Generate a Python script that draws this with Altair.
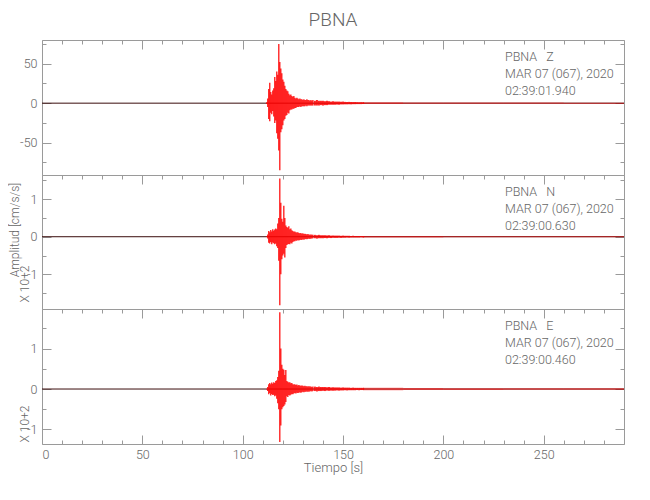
import altair as alt
import pandas as pd

# ---------------- data ----------------
T_MAX = 290
T_FINE = [112 + 0.5 * i for i in range(47)]      # 112.0 .. 135.0 s
T_COARSE = [136 + i for i in range(25)]          # 136 .. 160 s
TAIL_EDGES = [160, 180, 200, 230, 260, 290]

# Z component (cm/s/s) : upper / lower envelope
Z_HI_FINE = [1, 6, 18, 26, 14, 11, 16, 19, 33, 28,
             40, 36, 75, 52, 44, 38, 30, 27, 22, 18,
             16, 15, 12, 10, 11, 9, 8, 9, 7, 6,
             7, 6, 5, 6, 5, 5, 4, 5, 4, 4,
             5, 4, 4, 3, 4, 3, 4]
Z_LO_FINE = [-1, -5, -20, -23, -12, -14, -10, -17, -25, -22,
             -38, -45, -60, -85, -37, -33, -28, -22, -20, -16,
             -15, -12, -13, -9, -8, -8, -7, -7, -6, -6,
             -5, -5, -5, -4, -5, -4, -4, -4, -4, -3,
             -4, -3, -3, -3, -3, -3, -3]
Z_HI_COARSE = [3, 4, 3, 3, 3, 2.5, 3, 2.5, 2, 2.5, 2, 2, 2, 1.8, 2,
               1.6, 1.5, 1.6, 1.5, 1.4, 1.5, 1.3, 1.2, 1.3, 1.2]
Z_LO_COARSE = [-3, -3, -3, -2.5, -3, -2.5, -2.5, -2, -2, -2, -2, -1.8, -2, -1.6, -1.6,
               -1.5, -1.5, -1.4, -1.5, -1.3, -1.3, -1.2, -1.2, -1.2, -1.1]
Z_TAIL = [1.1, 0.9, 0.8, 0.7, 0.6]

# N component (x 10^2 cm/s/s)
N_HI_FINE = [0.01, 0.06, 0.15, 0.12, 0.18, 0.14, 0.2, 0.16, 0.19, 0.22,
             0.2, 0.35, 0.5, 1.55, 0.9, 0.48, 0.4, 0.82, 0.5, 0.3,
             0.26, 0.24, 0.28, 0.2, 0.22, 0.17, 0.15, 0.13, 0.14, 0.12,
             0.11, 0.12, 0.1, 0.09, 0.1, 0.08, 0.09, 0.07, 0.08, 0.07,
             0.06, 0.07, 0.06, 0.05, 0.06, 0.05, 0.05]
N_LO_FINE = [-0.01, -0.05, -0.16, -0.18, -0.14, -0.2, -0.15, -0.17, -0.2, -0.18,
             -0.25, -0.3, -0.64, -1.82, -1.0, -0.6, -0.5, -0.45, -0.55, -0.3,
             -0.22, -0.2, -0.19, -0.2, -0.16, -0.18, -0.14, -0.12, -0.12, -0.1,
             -0.11, -0.09, -0.1, -0.09, -0.08, -0.09, -0.07, -0.08, -0.07, -0.06,
             -0.07, -0.06, -0.05, -0.06, -0.05, -0.05, -0.04]
N_HI_COARSE = [0.05, 0.04, 0.05, 0.04, 0.04, 0.04, 0.035, 0.04, 0.03, 0.035, 0.03, 0.03, 0.03,
               0.025, 0.03, 0.025, 0.025, 0.025, 0.02, 0.025, 0.02, 0.02, 0.02, 0.02, 0.02]
N_LO_COARSE = [-0.04, -0.05, -0.04, -0.04, -0.04, -0.035, -0.04, -0.03, -0.035, -0.03, -0.03, -0.03,
               -0.025, -0.03, -0.025, -0.025, -0.02, -0.025, -0.02, -0.02, -0.02, -0.02, -0.02,
               -0.015, -0.02]
N_TAIL = [0.02, 0.018, 0.016, 0.015, 0.013]

# E component (x 10^2 cm/s/s)
E_HI_FINE = [0.01, 0.05, 0.12, 0.15, 0.12, 0.16, 0.13, 0.17, 0.15, 0.2,
             0.22, 0.3, 0.45, 1.9, 1.0, 0.6, 0.5, 0.48, 0.35, 0.47,
             0.2, 0.18, 0.16, 0.17, 0.14, 0.15, 0.12, 0.11, 0.12, 0.1,
             0.11, 0.09, 0.1, 0.09, 0.08, 0.09, 0.08, 0.07, 0.08, 0.07,
             0.07, 0.06, 0.07, 0.06, 0.06, 0.05, 0.06]
E_LO_FINE = [-0.01, -0.05, -0.13, -0.1, -0.16, -0.12, -0.15, -0.14, -0.18, -0.16,
             -0.24, -0.35, -0.5, -1.31, -0.9, -0.5, -0.45, -0.42, -0.38, -0.32,
             -0.18, -0.2, -0.15, -0.16, -0.14, -0.12, -0.13, -0.11, -0.1, -0.11,
             -0.09, -0.1, -0.09, -0.08, -0.09, -0.08, -0.07, -0.08, -0.07, -0.07,
             -0.06, -0.07, -0.06, -0.06, -0.05, -0.06, -0.05]
E_HI_COARSE = [0.06, 0.05, 0.06, 0.05, 0.05, 0.05, 0.045, 0.05, 0.04, 0.045, 0.04, 0.04, 0.04,
               0.035, 0.04, 0.035, 0.035, 0.035, 0.03, 0.035, 0.03, 0.03, 0.03, 0.03, 0.03]
E_LO_COARSE = [-0.05, -0.06, -0.05, -0.05, -0.045, -0.05, -0.04, -0.045, -0.04, -0.04, -0.04,
               -0.035, -0.04, -0.035, -0.035, -0.03, -0.035, -0.03, -0.03, -0.03, -0.03,
               -0.025, -0.03, -0.025, -0.025]
E_TAIL = [0.03, 0.026, 0.022, 0.02, 0.018]

X_TICKS = list(range(0, 291, 10))
X_LABELS = [0, 50, 100, 150, 200, 250]
Z_TICKS = [-75, -50, -25, 0, 25, 50, 75]
Z_LABELS = [-50, 0, 50]
N_TICKS = [-1.5, -1, -0.5, 0, 0.5, 1, 1.5]
E_TICKS = [-1, -0.5, 0, 0.5, 1, 1.5]
NE_LABELS = [-1, 0, 1]

INFO = {
    "Z": "PBNA\u00a0\u00a0\u00a0Z\nMAR 07 (067), 2020\n02:39:01.940",
    "N": "PBNA\u00a0\u00a0\u00a0N\nMAR 07 (067), 2020\n02:39:00.630",
    "E": "PBNA\u00a0\u00a0\u00a0E\nMAR 07 (067), 2020\n02:39:00.460",
}

# ---------------- style ----------------
FONT = "Roboto"
FW = 300
GREY = "#9a9a9a"
TXT = "#666666"
RED = "#ff0000"
BASE = "#3a0c0c"
W = 582
MINUS = "(datum.value < 0 ? '-' : '') + abs(datum.value)"


def tick_axis(orient, offset, values, major_test):
    return alt.Axis(orient=orient, offset=offset, values=values, labels=False,
                    domain=False, grid=False, title=None, tickColor=GREY, tickWidth=1,
                    tickSize={"condition": {"test": major_test, "value": 9}, "value": 4})


def label_axis(orient, values, title=None):
    kw = dict(orient=orient, values=values, ticks=False, domain=False, grid=False,
              labelFont=FONT, labelFontSize=12.5, labelFontWeight=FW, labelColor=TXT,
              labelExpr=MINUS, labelPadding=5 if orient == "left" else 4)
    if title:
        kw.update(title=title, titleFont=FONT, titleFontSize=13, titleFontWeight=FW,
                  titleColor=TXT, titlePadding=1)
    else:
        kw.update(title=None)
    return alt.Axis(**kw)


def panel(hi_f, lo_f, hi_c, lo_c, tail_amp, ydom, H, yticks, ymajor, ylabels, info,
          bottom=False, side_texts=(), title=None):
    xs = alt.Scale(domain=[0, T_MAX], nice=False, zero=False)
    ys = alt.Scale(domain=ydom, nice=False, zero=False)
    fine = pd.DataFrame({"t": T_FINE, "hi": hi_f, "lo": lo_f})
    coarse = pd.DataFrame({"t": T_COARSE, "hi": hi_c, "lo": lo_c})
    tail = pd.DataFrame({"t0": TAIL_EDGES[:-1], "t1": TAIL_EDGES[1:],
                         "hi": tail_amp, "lo": [-a for a in tail_amp]})

    baseline = alt.Chart(pd.DataFrame({"level": [0]})).mark_rule(
        color=BASE, strokeWidth=1).encode(y=alt.Y("level:Q", scale=ys, axis=None))

    signal = alt.Chart(fine).mark_rule(color=RED, strokeWidth=1.2).encode(
        x=alt.X("t:Q", scale=xs, axis=tick_axis("bottom", -H, X_TICKS, "datum.value % 50 === 0")),
        y=alt.Y("lo:Q", scale=ys, axis=label_axis("left", ylabels)),
        y2="hi:Q",
    )
    coda = alt.Chart(coarse).mark_rule(color=RED, strokeWidth=2, opacity=0.85).encode(
        x=alt.X("t:Q", axis=None), y=alt.Y("lo:Q", axis=None), y2="hi:Q",
    )
    tail_band = alt.Chart(tail).mark_rect(color=RED, opacity=0.55).encode(
        x=alt.X("t0:Q", axis=None), x2="t1:Q",
        y=alt.Y("lo:Q", axis=None), y2="hi:Q",
    )

    carrier_a = alt.Chart(fine).mark_point(opacity=0).encode(
        x=alt.X("t:Q", axis=tick_axis("top", -H, X_TICKS, "datum.value % 50 === 0") if bottom else None),
        y=alt.Y("hi:Q", axis=tick_axis("right", -W, yticks, ymajor)),
    )
    carrier_b = alt.Chart(fine).mark_point(opacity=0).encode(
        x=alt.X("t:Q", axis=label_axis("bottom", X_LABELS, "Tiempo [s]") if bottom else None),
        y=alt.Y("hi:Q", axis=tick_axis("left", -W, yticks, ymajor)),
    )

    info_text = alt.Chart(pd.DataFrame({"label": [info]})).mark_text(
        align="left", baseline="top", font=FONT, fontSize=12.5, fontWeight=FW, color=TXT,
        lineBreak="\n", lineHeight=16.8,
    ).encode(x=alt.value(463), y=alt.value(11), text="label:N")

    layers = [baseline, tail_band, coda, signal, carrier_a, carrier_b, info_text]
    for txt, px, py in side_texts:
        layers.append(alt.Chart(pd.DataFrame({"label": [txt]})).mark_text(
            angle=270, align="center", baseline="top", font=FONT, fontSize=12,
            fontWeight=FW, color=TXT,
        ).encode(x=alt.value(px), y=alt.value(py), text="label:N"))

    ch = alt.layer(*layers).resolve_axis(x="independent", y="independent")
    props = dict(width=W, height=H)
    if title:
        props["title"] = alt.TitleParams(title, font=FONT, fontSize=19, fontWeight=FW,
                                         color=TXT, anchor="middle", frame="group", offset=10)
    return ch.properties(**props)


p1 = panel(Z_HI_FINE, Z_LO_FINE, Z_HI_COARSE, Z_LO_COARSE, Z_TAIL, [-91, 80], 135,
           Z_TICKS, "datum.value % 50 === 0", Z_LABELS, INFO["Z"], title="PBNA")
p2 = panel(N_HI_FINE, N_LO_FINE, N_HI_COARSE, N_LO_COARSE, N_TAIL, [-1.92, 1.64], 134,
           N_TICKS, "datum.value % 1 === 0", NE_LABELS, INFO["N"],
           side_texts=[("Amplitud [cm/s/s]", -32, 55), ("X 10+2", -22, 109)])
p3 = panel(E_HI_FINE, E_LO_FINE, E_HI_COARSE, E_LO_COARSE, E_TAIL, [-1.36, 1.98], 135,
           E_TICKS, "datum.value % 1 === 0", NE_LABELS, INFO["E"], bottom=True,
           side_texts=[("X 10+2", -22, 115)])

chart = alt.vconcat(p1, p2, p3, spacing=0, bounds="flush").properties(
    padding={"top": 2, "left": 0, "right": 0, "bottom": 0}
).configure_view(stroke=GREY, strokeWidth=1)

chart.save("out.html", embed_options={"renderer": "svg", "actions": False})
